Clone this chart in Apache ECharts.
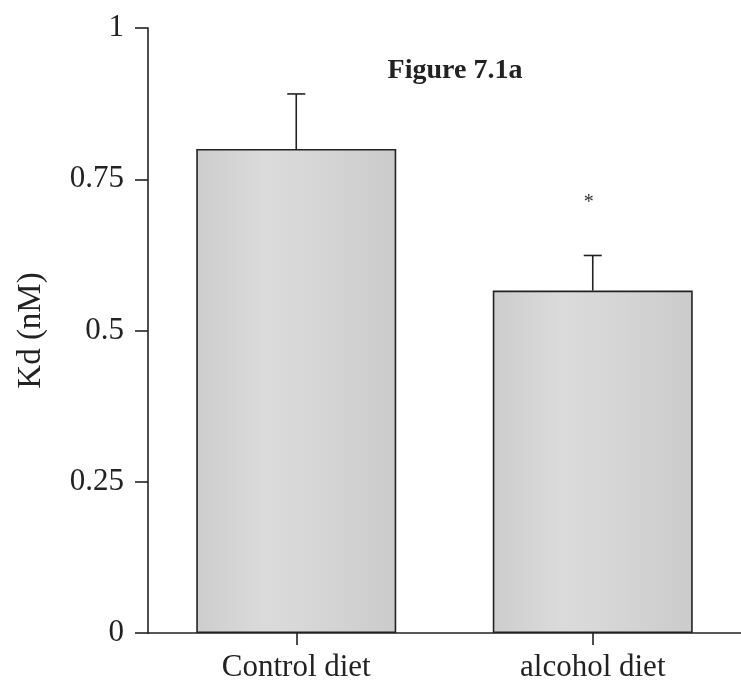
<!DOCTYPE html>
<html>
<head>
<meta charset="utf-8">
<script src="https://cdn.jsdelivr.net/npm/echarts@6/dist/echarts.min.js"></script>
<style>
  html, body { margin: 0; padding: 0; background: #fff; }
  #chart { width: 741px; height: 694px; }
</style>
</head>
<body>
<div id="chart"></div>
<script>
// Kd values (nM) for the two diet groups, with SEM and significance markers
const categories = ['Control diet', 'alcohol diet'];
const kdMean = [0.80, 0.566];
const kdErr = [0.091, 0.058];
const sigMark = ['', '*'];
const sigMarkY = [null, 0.716];
const yTicks = [0, 0.25, 0.5, 0.75, 1];

const serif = '"Liberation Serif", "DejaVu Serif", serif';
const ink = '#222';
const chart = echarts.init(document.getElementById('chart'));

const barFill = new echarts.graphic.LinearGradient(0, 0, 1, 0, [
  { offset: 0, color: '#cdcdcd' },
  { offset: 0.35, color: '#dbdbdb' },
  { offset: 0.6, color: '#d6d6d6' },
  { offset: 1, color: '#cbcbcb' }
]);

chart.setOption({
  animation: false,
  title: {
    text: 'Figure 7.1a',
    left: 450, top: 52, textAlign: 'center',
    textStyle: { fontFamily: serif, fontWeight: 'bold', fontSize: 28, color: ink }
  },
  grid: { left: 148, top: 28, width: 600, height: 605, containLabel: false },
  xAxis: {
    type: 'category',
    data: categories,
    axisLine: { lineStyle: { color: ink, width: 1.6 } },
    axisTick: { show: true, alignWithLabel: true, length: 12, lineStyle: { color: ink, width: 1.6 } },
    axisLabel: { fontFamily: serif, fontSize: 31, color: ink, margin: 19 }
  },
  yAxis: {
    type: 'value',
    min: 0, max: 1, interval: 0.25,
    name: 'Kd (nM)',
    nameLocation: 'middle',
    nameGap: 100,
    nameTextStyle: { fontFamily: serif, fontSize: 33, color: ink },
    splitLine: { show: false },
    axisLine: { show: true, lineStyle: { color: ink, width: 1.6 } },
    axisTick: { show: true, length: 13, lineStyle: { color: ink, width: 1.6 } },
    axisLabel: {
      fontFamily: serif, fontSize: 31, color: ink, margin: 24,
      formatter: v => (yTicks.includes(v) ? String(v) : '')
    }
  },
  series: [
    {
      type: 'bar',
      data: kdMean,
      barWidth: 200,
      itemStyle: { color: barFill, borderColor: ink, borderWidth: 1.6 }
    },
    {
      type: 'custom',
      data: kdMean.map((m, i) => [i, m, m + kdErr[i]]),
      renderItem: (params, api) => {
        const i = api.value(0);
        const base = api.coord([i, api.value(1)]);
        const top = api.coord([i, api.value(2)]);
        const half = 9;
        const children = [
          { type: 'line', shape: { x1: base[0], y1: base[1], x2: top[0], y2: top[1] },
            style: { stroke: ink, lineWidth: 1.6 } },
          { type: 'line', shape: { x1: top[0] - half, y1: top[1], x2: top[0] + half, y2: top[1] },
            style: { stroke: ink, lineWidth: 1.6 } }
        ];
        if (sigMark[i]) {
          const p = api.coord([i, sigMarkY[i]]);
          children.push({
            type: 'text',
            style: { text: sigMark[i], x: p[0] - 4, y: p[1] + 3, align: 'center', verticalAlign: 'middle',
                     font: '20px ' + serif, fill: '#333' }
          });
        }
        return { type: 'group', children };
      },
      z: 5
    }
  ]
});
</script>
</body>
</html>
